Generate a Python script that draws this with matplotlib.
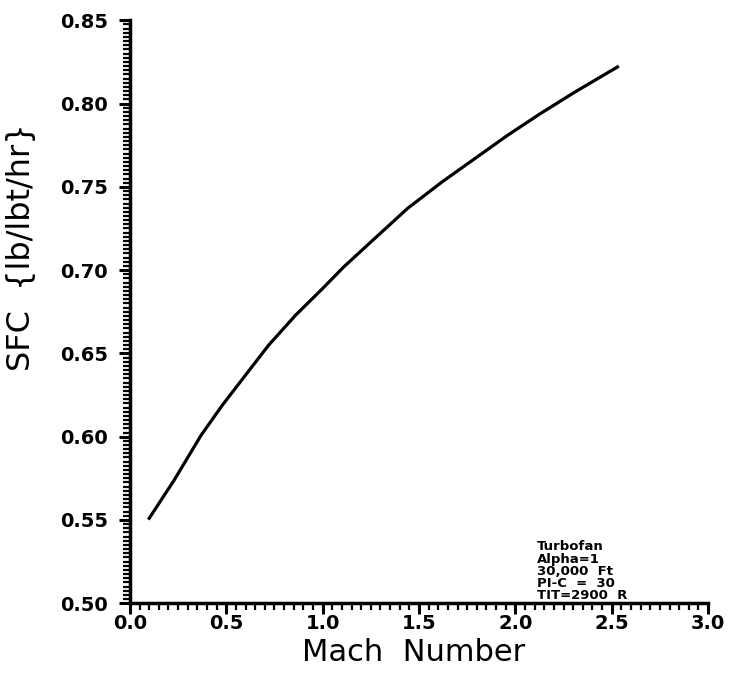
import numpy as np
import matplotlib
matplotlib.use('Agg')
import matplotlib.pyplot as plt
from matplotlib.ticker import MultipleLocator

# 数据: 马赫数 与 SFC
mach = [0.10, 0.23, 0.37, 0.48, 0.60, 0.72, 0.86, 1.00, 1.11, 1.27, 1.44,
        1.62, 1.79, 1.96, 2.13, 2.31, 2.53]
sfc = [0.551, 0.574, 0.601, 0.619, 0.637, 0.655, 0.673, 0.689, 0.702, 0.719, 0.737,
       0.753, 0.767, 0.781, 0.794, 0.807, 0.822]

notes = ['Turbofan', 'Alpha=1', '30,000  Ft', 'PI-C  =  30', 'TIT=2900  R']

fig = plt.figure(figsize=(7.3, 6.77), dpi=100)
ax = fig.add_axes([0.178, 0.109, 0.792, 0.861])

ax.plot(mach, sfc, color='black', linewidth=2.3)

ax.set_xlim(0.0, 3.0)
ax.set_ylim(0.50, 0.85)

# 坐标轴刻度
ax.xaxis.set_major_locator(MultipleLocator(0.5))
ax.xaxis.set_minor_locator(MultipleLocator(0.05))
ax.yaxis.set_major_locator(MultipleLocator(0.05))
ax.yaxis.set_minor_locator(MultipleLocator(0.0025))
ax.xaxis.set_major_formatter(plt.FormatStrFormatter('%.1f'))
ax.yaxis.set_major_formatter(plt.FormatStrFormatter('%.2f'))

ax.tick_params(which='major', direction='out', length=8, width=2.2, labelsize=14)
ax.tick_params(axis='y', which='major', pad=8)
ax.tick_params(axis='x', which='major', pad=0)
ax.tick_params(which='minor', direction='out', length=5, width=1.6)
for lab in ax.get_xticklabels() + ax.get_yticklabels():
    lab.set_fontweight('bold')

for s in ['top', 'right']:
    ax.spines[s].set_visible(False)
for s in ['left', 'bottom']:
    ax.spines[s].set_linewidth(2.5)

ax.set_xlabel('Mach  Number', fontsize=22)
ax.set_ylabel('SFC  {lb/lbt/hr}', fontsize=23)
ax.xaxis.set_label_coords(0.49, -0.06)
ax.yaxis.set_label_coords(-0.16, 0.61)

# 注释文本
ax.text(0.704, 0.108, '\n'.join(notes), transform=ax.transAxes, fontsize=9.5,
        fontweight='bold', ha='left', va='top', linespacing=0.93)

fig.savefig('out.png', dpi=100)
